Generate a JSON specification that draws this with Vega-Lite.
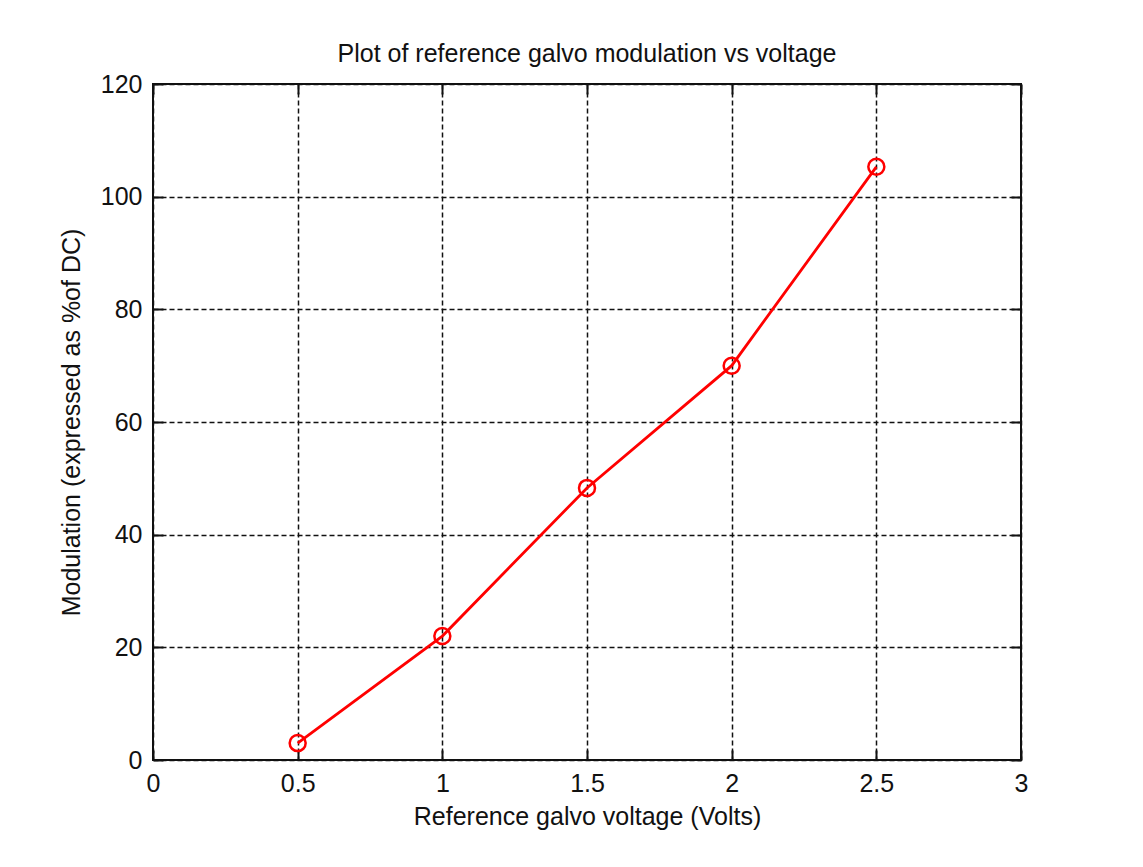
{
  "$schema": "https://vega.github.io/schema/vega-lite/v6.json",
  "width": 868,
  "height": 676,
  "autosize": {"type": "none"},
  "padding": {"left": 153, "top": 84, "right": 122, "bottom": 107},
  "background": "#ffffff",
  "title": {
    "text": "Plot of reference galvo modulation vs voltage",
    "anchor": "middle",
    "frame": "group",
    "baseline": "alphabetic",
    "offset": -15,
    "font": "Liberation Sans",
    "fontSize": 25,
    "fontWeight": "normal",
    "color": "#111111"
  },
  "config": {
    "view": {"stroke": "#111111", "strokeWidth": 2},
    "axis": {
      "labelFont": "Liberation Sans",
      "labelFontSize": 25,
      "labelColor": "#111111",
      "labelFlush": false,
      "labelOverlap": false,
      "titleFont": "Liberation Sans",
      "titleFontSize": 25,
      "titleFontWeight": "normal",
      "titleColor": "#111111",
      "domain": false,
      "tickColor": "#111111",
      "tickWidth": 2,
      "tickSize": -10,
      "gridColor": "#111111",
      "gridOpacity": 1,
      "gridWidth": 1.5,
      "gridDash": [5, 3]
    }
  },
  "data": {
    "values": [
      {"voltage": 0.5, "modulation": 3},
      {"voltage": 1.0, "modulation": 22},
      {"voltage": 1.5, "modulation": 48.3},
      {"voltage": 2.0, "modulation": 70},
      {"voltage": 2.5, "modulation": 105.3}
    ]
  },
  "layer": [
    {
      "mark": {"type": "line", "color": "#ff0000", "strokeWidth": 2.8},
      "encoding": {
        "x": {
          "field": "voltage",
          "type": "quantitative",
          "scale": {"domain": [0, 3], "nice": false, "zero": false},
          "axis": {
            "orient": "bottom",
            "title": "Reference galvo voltage (Volts)",
            "values": [0, 0.5, 1, 1.5, 2, 2.5, 3],
            "format": "~g",
            "labelPadding": 21,
            "titlePadding": 8,
            "grid": true
          }
        },
        "y": {
          "field": "modulation",
          "type": "quantitative",
          "scale": {"domain": [0, 120], "nice": false},
          "axis": {
            "orient": "left",
            "title": "Modulation (expressed as %of DC)",
            "values": [0, 20, 40, 60, 80, 100, 120],
            "labelPadding": 21,
            "titlePadding": 16,
            "grid": true
          }
        }
      }
    },
    {
      "mark": {"type": "point", "shape": "circle", "size": 256, "color": "#ff0000", "strokeWidth": 2.5, "filled": false, "opacity": 1},
      "encoding": {
        "x": {
          "field": "voltage",
          "type": "quantitative",
          "scale": {"domain": [0, 3], "nice": false, "zero": false},
          "axis": {
            "orient": "top",
            "title": null,
            "labels": false,
            "values": [0, 0.5, 1, 1.5, 2, 2.5, 3],
            "grid": false
          }
        },
        "y": {
          "field": "modulation",
          "type": "quantitative",
          "scale": {"domain": [0, 120], "nice": false},
          "axis": {
            "orient": "right",
            "title": null,
            "labels": false,
            "values": [0, 20, 40, 60, 80, 100, 120],
            "grid": false
          }
        }
      }
    }
  ],
  "resolve": {"axis": {"x": "independent", "y": "independent"}}
}
